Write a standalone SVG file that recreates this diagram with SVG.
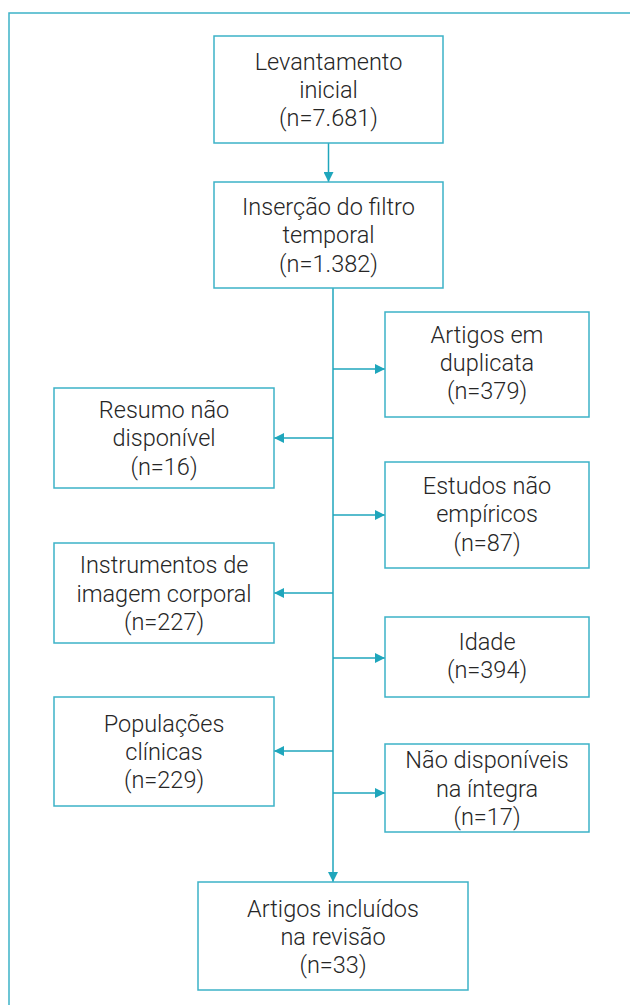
<svg xmlns="http://www.w3.org/2000/svg" width="630" height="1005" viewBox="0 0 630 1005">
<style>
.box{fill:#fff;stroke:#3db2c7;stroke-width:1.5}
.frame{fill:none;stroke:#3db2c7;stroke-width:1.5}
.con{fill:none;stroke:#1fa6bc;stroke-width:1.5}
text{font-family:Roboto,"Noto Sans",sans-serif;font-weight:300;font-size:23.5px;fill:#262626;text-anchor:middle}
</style>
<defs>
<marker id="ah" viewBox="0 0 10 10" refX="10" refY="5" markerWidth="10" markerHeight="10" markerUnits="userSpaceOnUse" orient="auto">
<path d="M0,0 L10,5 L0,10 z" fill="#1fa6bc"/>
</marker>
</defs>
<rect width="630" height="1005" fill="#fff"/>
<path class="frame" d="M9,1005 V13 H630"/>
<g id="connectors">
<line class="con" x1="328.5" y1="143" x2="328.5" y2="182" marker-end="url(#ah)"/>
<line class="con" x1="333" y1="288" x2="333" y2="882" marker-end="url(#ah)"/>
<line class="con" x1="333" y1="369" x2="385" y2="369" marker-end="url(#ah)"/>
<line class="con" x1="333" y1="438" x2="274" y2="438" marker-end="url(#ah)"/>
<line class="con" x1="333" y1="515" x2="385" y2="515" marker-end="url(#ah)"/>
<line class="con" x1="333" y1="593" x2="274" y2="593" marker-end="url(#ah)"/>
<line class="con" x1="333" y1="658" x2="385" y2="658" marker-end="url(#ah)"/>
<line class="con" x1="333" y1="751" x2="274" y2="751" marker-end="url(#ah)"/>
<line class="con" x1="333" y1="793" x2="385" y2="793" marker-end="url(#ah)"/>
</g>
<g id="levantamento">
<rect class="box" x="214" y="36" width="229" height="107"/>
<text x="328.5" y="70">Levantamento</text>
<text x="328.5" y="98">inicial</text>
<text x="328.5" y="126">(n=7.681)</text>
</g>
<g id="insercao">
<rect class="box" x="214" y="182" width="229" height="106"/>
<text x="328.5" y="215">Inserção do filtro</text>
<text x="328.5" y="243">temporal</text>
<text x="328.5" y="272">(n=1.382)</text>
</g>
<g id="duplicata">
<rect class="box" x="385" y="312" width="204" height="105"/>
<text x="487" y="343">Artigos em</text>
<text x="487" y="371">duplicata</text>
<text x="487" y="399">(n=379)</text>
</g>
<g id="resumo">
<rect class="box" x="54" y="388" width="220" height="100"/>
<text x="164" y="418">Resumo não</text>
<text x="164" y="446">disponível</text>
<text x="164" y="475">(n=16)</text>
</g>
<g id="estudos">
<rect class="box" x="385" y="462" width="204" height="106"/>
<text x="487" y="494">Estudos não</text>
<text x="487" y="522">empíricos</text>
<text x="487" y="551">(n=87)</text>
</g>
<g id="instrumentos">
<rect class="box" x="54" y="543" width="220" height="100"/>
<text x="164" y="573">Instrumentos de</text>
<text x="164" y="602">imagem corporal</text>
<text x="164" y="630">(n=227)</text>
</g>
<g id="idade">
<rect class="box" x="385" y="617" width="204" height="80"/>
<text x="487" y="650">Idade</text>
<text x="487" y="678">(n=394)</text>
</g>
<g id="populacoes">
<rect class="box" x="54" y="697" width="220" height="109"/>
<text x="164" y="732">Populações</text>
<text x="164" y="760">clínicas</text>
<text x="164" y="788">(n=229)</text>
</g>
<g id="naodisponiveis">
<rect class="box" x="385" y="744" width="204" height="88"/>
<text x="487" y="768">Não disponíveis</text>
<text x="487" y="797">na íntegra</text>
<text x="487" y="825">(n=17)</text>
</g>
<g id="incluidos">
<rect class="box" x="198" y="882" width="270" height="108"/>
<text x="333" y="917">Artigos incluídos</text>
<text x="333" y="945">na revisão</text>
<text x="333" y="973">(n=33)</text>
</g>
</svg>
